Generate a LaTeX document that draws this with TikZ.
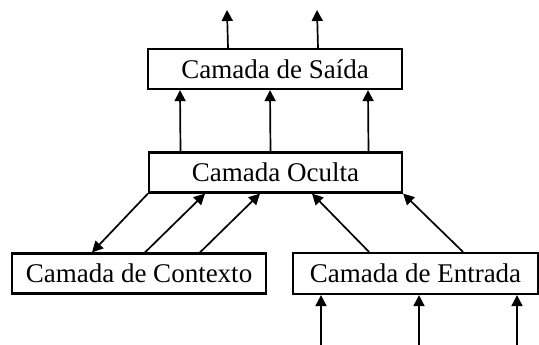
\documentclass[tikz,border=0pt]{standalone}
\usepackage{fontspec}
\setmainfont{Liberation Serif}
\usetikzlibrary{arrows.meta}
\begin{document}
\begin{tikzpicture}[x=1pt,y=1pt,line width=2.2pt,
  layer/.style={draw, rectangle, minimum height=40pt, inner sep=0pt,
    font=\fontsize{27}{32}\selectfont},
  arr/.style={-{Triangle[length=11pt,width=11pt]}, line width=1.7pt}]
\useasboundingbox (0,0) rectangle (539,345);
\node[layer, minimum width=254pt] (out) at (275,276) {Camada de Saída};
\node[layer, minimum width=253pt] (hid) at (275.5,172.5) {Camada Oculta};

\node[layer, minimum width=254pt] (ctx) at (139,71.5) {Camada de Contexto};
\node[layer, minimum width=245pt, minimum height=41pt] (inp) at (415.5,71.5) {Camada de Entrada};

\coordinate (y1) at (227,335);
\coordinate (y2) at (317,335);
\coordinate (x1) at (321,0);
\coordinate (x2) at (419,0);
\coordinate (x3) at (517,0);

\draw[arr] ([xshift=-47pt]out.north) -- (y1);
\draw[arr] ([xshift=43pt]out.north) -- (y2);
\foreach \d in {-95,-5,93}
  \draw[arr] ([xshift=\d pt]hid.north) -- ([xshift=\d pt]out.south);

\draw[arr] (hid.south west) -- ([xshift=-47pt]ctx.north);
\draw[arr] ([xshift=6pt]ctx.north) -- ([xshift=-70.5pt]hid.south);
\draw[arr] ([xshift=61pt]ctx.north) -- ([xshift=-15.5pt]hid.south);

\draw[arr] ([xshift=-46.5pt]inp.north) -- ([xshift=36.5pt]hid.south);
\draw[arr] ([xshift=47.5pt]inp.north) -- (hid.south east);

\draw[arr] (x1) -- (x1 |- inp.south);
\draw[arr] (x2) -- (x2 |- inp.south);
\draw[arr] (x3) -- (x3 |- inp.south);
\end{tikzpicture}
\end{document}
